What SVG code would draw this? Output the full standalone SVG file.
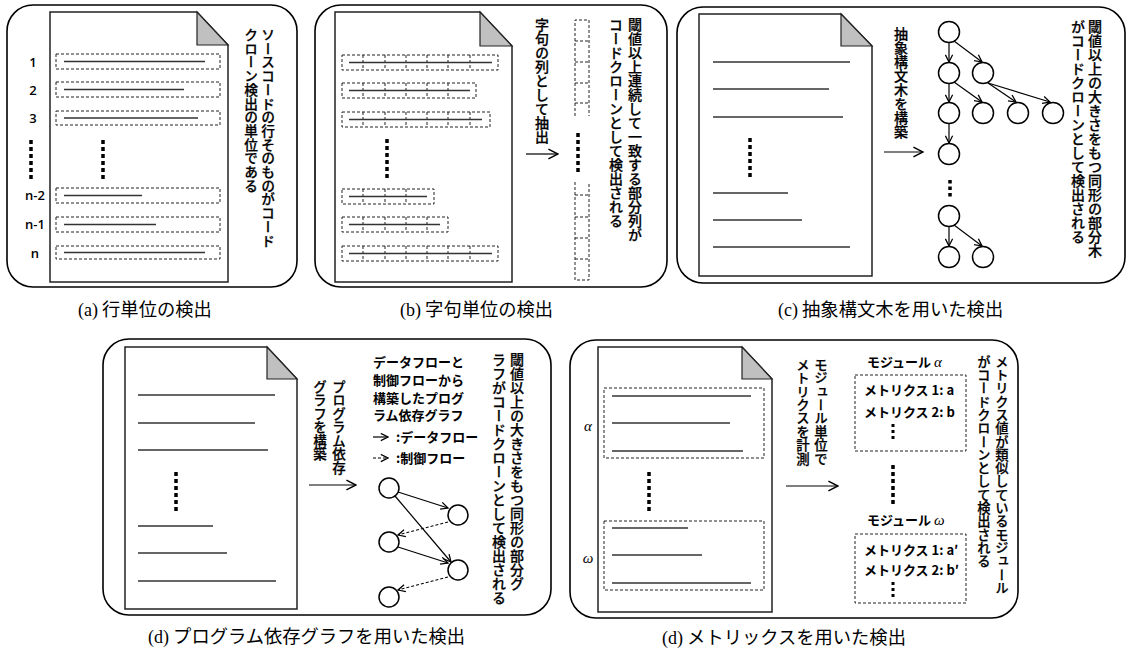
<svg xmlns="http://www.w3.org/2000/svg" width="1129" height="650" viewBox="0 0 1129 650">
<style>
.box{fill:none;stroke:#000;stroke-width:1.6}
.doc{fill:#fff;stroke:#222;stroke-width:1.5}
.fold{fill:#c0c0c0;stroke:#222;stroke-width:1.2}
.ln{stroke:#333;stroke-width:1.3;fill:none}
.dash{fill:none;stroke:#222;stroke-width:1;stroke-dasharray:3 2}
.dots{stroke:#000;stroke-width:3.5;stroke-dasharray:4 3;fill:none}
.vt{font-family:"Noto Sans CJK JP","Noto Sans CJK SC",sans-serif;font-size:14px;font-weight:500;writing-mode:vertical-rl;fill:#000;stroke:#000;stroke-width:0.25}
.ht{font-family:"Noto Sans CJK JP","Noto Sans CJK SC",sans-serif;font-size:13px;font-weight:bold;fill:#000}
.num{font-family:"Open Sans","Noto Sans",sans-serif;font-size:13px;fill:#000;text-anchor:middle;font-weight:600}
.cap{font-family:"Noto Sans CJK JP",sans-serif;font-size:18.3px;fill:#000}
.capl{font-family:"Liberation Serif",serif;font-size:18px}
.node{fill:#fff;stroke:#000;stroke-width:1.5}
.ar{stroke:#000;stroke-width:1.2;fill:none}
.ard{stroke:#000;stroke-width:1.1;fill:none;stroke-dasharray:3 2}
.gk{font-family:"Liberation Serif",serif;font-style:italic;font-size:15px}
</style>
<defs>
<marker id="big" markerUnits="userSpaceOnUse" markerWidth="12" markerHeight="12" viewBox="0 0 10 10" refX="9" refY="5" orient="auto">
<path d="M1,1 L9,5 L1,9" fill="none" stroke="#000" stroke-width="1.2"/>
</marker>
<marker id="sm" markerUnits="userSpaceOnUse" markerWidth="9" markerHeight="9" viewBox="0 0 10 10" refX="9" refY="5" orient="auto">
<path d="M1,1 L9,5 L1,9" fill="none" stroke="#000" stroke-width="1.4"/>
</marker>
</defs>

<!-- Panel (a) -->
<g id="panel-a">
<rect class="box" x="7" y="5" width="290" height="282" rx="26"/>
<path class="doc" d="M50,12 H197 L228,45 V282 H50 Z"/>
<path class="fold" d="M197,12 V45 H228 Z"/>
<rect class="dash" x="56" y="54" width="164" height="15"/>
<line class="ln" x1="64" y1="61.5" x2="205" y2="61.5"/>
<rect class="dash" x="56" y="82" width="164" height="15"/>
<line class="ln" x1="64" y1="89.5" x2="184" y2="89.5"/>
<rect class="dash" x="56" y="111" width="164" height="14"/>
<line class="ln" x1="64" y1="118" x2="198" y2="118"/>
<rect class="dash" x="56" y="188" width="164" height="15"/>
<line class="ln" x1="64" y1="195.5" x2="142" y2="195.5"/>
<rect class="dash" x="56" y="217" width="164" height="15"/>
<line class="ln" x1="64" y1="224.5" x2="156" y2="224.5"/>
<rect class="dash" x="56" y="246" width="164" height="13"/>
<line class="ln" x1="64" y1="252.5" x2="205" y2="252.5"/>
<line class="dots" x1="103" y1="140" x2="103" y2="180"/>
<line class="dots" x1="31" y1="140" x2="31" y2="180"/>
<text class="num" x="33" y="67">1</text>
<text class="num" x="33" y="95">2</text>
<text class="num" x="33" y="123">3</text>
<text class="num" x="35" y="200">n-2</text>
<text class="num" x="35" y="229">n-1</text>
<text class="num" x="35" y="258">n</text>
<text class="vt" x="268" y="28" style="font-size:13.7px">ソースコードの行そのものがコード</text>
<text class="vt" x="251" y="28" style="font-size:13.7px">クローン検出の単位である</text>
</g>
<text class="cap" x="78" y="316"><tspan class="capl">(a)</tspan> 行単位の検出</text>

<!-- Panel (b) -->
<g id="panel-b">
<rect class="box" x="315" y="5" width="352" height="282" rx="26"/>
<path class="doc" d="M335,12 H480 L512,46 V282 H335 Z"/>
<path class="fold" d="M480,12 V46 H512 Z"/>
<rect class="dash" x="342" y="55" width="156" height="15"/>
<path class="dash" d="M363,55V70M385,55V70M406,55V70M427,55V70M448,55V70M470,55V70"/>
<line class="ln" x1="349" y1="62.5" x2="492" y2="62.5"/>
<rect class="dash" x="342" y="83" width="134" height="15"/>
<path class="dash" d="M363,83V98M385,83V98M406,83V98M427,83V98M448,83V98"/>
<line class="ln" x1="349" y1="90.5" x2="470" y2="90.5"/>
<rect class="dash" x="342" y="112" width="148" height="15"/>
<path class="dash" d="M363,112V127M385,112V127M406,112V127M427,112V127M448,112V127M470,112V127"/>
<line class="ln" x1="349" y1="119.5" x2="482" y2="119.5"/>
<rect class="dash" x="342" y="189" width="92" height="15"/>
<path class="dash" d="M363,189V204M385,189V204M406,189V204"/>
<line class="ln" x1="349" y1="196.5" x2="427" y2="196.5"/>
<rect class="dash" x="342" y="217" width="106" height="15"/>
<path class="dash" d="M363,217V232M385,217V232M406,217V232M427,217V232"/>
<line class="ln" x1="349" y1="224.5" x2="440" y2="224.5"/>
<rect class="dash" x="342" y="246" width="156" height="15"/>
<path class="dash" d="M363,246V261M385,246V261M406,246V261M427,246V261M448,246V261M470,246V261"/>
<line class="ln" x1="349" y1="253.5" x2="492" y2="253.5"/>
<line class="dots" x1="387" y1="139" x2="387" y2="181"/>
<text class="vt" x="542" y="18">字句の列として抽出</text>
<path class="dash" d="M575,116V20H589V116M575,41H589M575,62H589M575,83H589M575,103H589"/>
<line class="dots" x1="578" y1="133" x2="578" y2="174"/>
<path class="dash" d="M575,182V280H589V182M575,195H589M575,217H589M575,238H589M575,259H589"/>
<text class="vt" x="635" y="18">閾値以上連続して一致する部分列が</text>
<text class="vt" x="616" y="18">コードクローンとして検出される</text>
</g>
<text class="cap" x="400" y="316"><tspan class="capl">(b)</tspan> 字句単位の検出</text>

<!-- Panel (c) -->
<g id="panel-c">
<rect class="box" x="677" y="7" width="448" height="276" rx="26"/>
<path class="doc" d="M699,14 H841 L872,46 V276 H699 Z"/>
<path class="fold" d="M841,14 V46 H872 Z"/>
<line class="ln" x1="713" y1="62" x2="850" y2="62"/>
<line class="ln" x1="713" y1="89" x2="829" y2="89"/>
<line class="ln" x1="713" y1="117" x2="843" y2="117"/>
<line class="dots" x1="750" y1="138" x2="750" y2="178"/>
<line class="ln" x1="713" y1="193" x2="788" y2="193"/>
<line class="ln" x1="713" y1="220" x2="802" y2="220"/>
<line class="ln" x1="713" y1="247" x2="850" y2="247"/>
<text class="vt" x="901" y="27">抽象構文木を構築</text>
<circle class="node" cx="949" cy="32" r="10.5"/>
<circle class="node" cx="949" cy="73" r="10.5"/>
<circle class="node" cx="983" cy="73" r="10.5"/>
<circle class="node" cx="949" cy="113" r="10.5"/>
<circle class="node" cx="983" cy="113" r="10.5"/>
<circle class="node" cx="1018" cy="113" r="10.5"/>
<circle class="node" cx="1053" cy="113" r="10.5"/>
<circle class="node" cx="949" cy="154" r="10.5"/>
<line class="dots" x1="950" y1="180" x2="950" y2="198" style="stroke-dasharray:3.5 3"/>
<circle class="node" cx="949" cy="216" r="10.5"/>
<circle class="node" cx="949" cy="257" r="10.5"/>
<circle class="node" cx="983" cy="257" r="10.5"/>
<text class="vt" x="1095" y="20">閾値以上の大きさをもつ同形の部分木</text>
<text class="vt" x="1078" y="20">がコードクローンとして検出される</text>
</g>
<text class="cap" x="778" y="316"><tspan class="capl">(c)</tspan> 抽象構文木を用いた検出</text>

<!-- Panel (d) PDG -->
<g id="panel-d-pdg">
<rect class="box" x="103" y="339" width="448" height="276" rx="26"/>
<path class="doc" d="M125,347 H267 L297,379 V609 H125 Z"/>
<path class="fold" d="M267,347 V379 H297 Z"/>
<line class="ln" x1="138" y1="395" x2="275" y2="395"/>
<line class="ln" x1="138" y1="423" x2="255" y2="423"/>
<line class="ln" x1="138" y1="450" x2="268" y2="450"/>
<line class="dots" x1="176" y1="472" x2="176" y2="511"/>
<line class="ln" x1="138" y1="526" x2="213" y2="526"/>
<line class="ln" x1="138" y1="553" x2="227" y2="553"/>
<line class="ln" x1="138" y1="581" x2="276" y2="581"/>
<text class="vt" x="339" y="380" style="font-size:13.5px">プログラム依存</text>
<text class="vt" x="320" y="380" style="font-size:13.5px">グラフを構築</text>
<text class="ht" x="373" y="367">データフローと</text>
<text class="ht" x="373" y="385">制御フローから</text>
<text class="ht" x="373" y="403">構築したプログ</text>
<text class="ht" x="373" y="420">ラム依存グラフ</text>
<text class="ht" x="396" y="442">:データフロー</text>
<text class="ht" x="396" y="463">:制御フロー</text>
<circle class="node" cx="389" cy="488" r="10"/>
<circle class="node" cx="458" cy="515" r="10"/>
<circle class="node" cx="389" cy="542" r="10"/>
<circle class="node" cx="458" cy="570" r="10"/>
<circle class="node" cx="389" cy="597" r="10"/>
<text class="vt" x="517" y="353">閾値以上の大きさをもつ同形の部分グ</text>
<text class="vt" x="499" y="353">ラフがコードクローンとして検出される</text>
</g>
<text class="cap" x="148" y="643"><tspan class="capl">(d)</tspan> プログラム依存グラフを用いた検出</text>

<!-- Panel (d) metrics -->
<g id="panel-d-metrics">
<rect class="box" x="570" y="340" width="448" height="278" rx="26"/>
<path class="doc" d="M598,347 H742 L772,379 V612 H598 Z"/>
<path class="fold" d="M742,347 V379 H772 Z"/>
<rect class="dash" x="604" y="388" width="160" height="70"/>
<line class="ln" x1="612" y1="396" x2="751" y2="396"/>
<line class="ln" x1="612" y1="423" x2="730" y2="423"/>
<line class="ln" x1="612" y1="451" x2="743" y2="451"/>
<line class="dots" x1="649" y1="472" x2="649" y2="513"/>
<rect class="dash" x="604" y="521" width="160" height="69"/>
<line class="ln" x1="612" y1="528" x2="688" y2="528"/>
<line class="ln" x1="612" y1="555" x2="702" y2="555"/>
<line class="ln" x1="612" y1="583" x2="751" y2="583"/>
<text class="gk" x="588" y="431" text-anchor="middle">α</text>
<text class="gk" x="588" y="563" text-anchor="middle">ω</text>
<text class="vt" x="821" y="358" style="font-size:13.4px">モジュール単位で</text>
<text class="vt" x="803" y="358" style="font-size:13.4px">メトリクスを計測</text>
<text class="ht" x="867" y="367">モジュール <tspan class="gk" font-weight="normal">α</tspan></text>
<rect class="dash" x="855" y="375" width="111" height="76"/>
<text class="ht" x="864" y="395">メトリクス 1: a</text>
<text class="ht" x="864" y="417">メトリクス 2: b</text>
<line class="dots" x1="893" y1="424" x2="893" y2="441" style="stroke-width:3;stroke-dasharray:3 3"/>
<line class="dots" x1="893" y1="465" x2="893" y2="506"/>
<text class="ht" x="867" y="525">モジュール <tspan class="gk" font-weight="normal">ω</tspan></text>
<rect class="dash" x="855" y="534" width="111" height="69"/>
<text class="ht" x="864" y="555">メトリクス 1: a′</text>
<text class="ht" x="864" y="575">メトリクス 2: b′</text>
<line class="dots" x1="893" y1="582" x2="893" y2="600" style="stroke-width:3;stroke-dasharray:3 3"/>
<text class="vt" x="1002" y="355" style="font-size:13.3px">メトリクス値が類似しているモジュール</text>
<text class="vt" x="984" y="355" style="font-size:13.3px">がコードクローンとして検出される</text>
</g>
<text class="cap" x="662" y="644"><tspan class="capl">(d)</tspan> メトリックスを用いた検出</text>

<!-- Connectors -->
<g id="connectors">
<line class="ar" x1="526" y1="154" x2="558" y2="154" marker-end="url(#big)"/>
<line class="ar" x1="884" y1="152" x2="923" y2="152" marker-end="url(#big)"/>
<line class="ar" x1="309" y1="485" x2="356" y2="485" marker-end="url(#big)"/>
<line class="ar" x1="786" y1="486" x2="838" y2="486" marker-end="url(#big)"/>
<line class="ar" x1="949" y1="42.5" x2="949" y2="62" marker-end="url(#sm)"/>
<line class="ar" x1="954" y1="41" x2="982" y2="62" marker-end="url(#sm)"/>
<line class="ar" x1="949" y1="83.5" x2="949" y2="102" marker-end="url(#sm)"/>
<line class="ar" x1="954" y1="82" x2="982" y2="102" marker-end="url(#sm)"/>
<line class="ar" x1="988" y1="83" x2="1016" y2="102" marker-end="url(#sm)"/>
<line class="ar" x1="988" y1="83" x2="1050" y2="102" marker-end="url(#sm)"/>
<line class="ar" x1="949" y1="123.5" x2="949" y2="143" marker-end="url(#sm)"/>
<line class="ar" x1="949" y1="226.5" x2="949" y2="246" marker-end="url(#sm)"/>
<line class="ar" x1="954" y1="225" x2="982" y2="246" marker-end="url(#sm)"/>
<line class="ar" x1="373" y1="437" x2="388" y2="437" marker-end="url(#sm)"/>
<line class="ard" x1="373" y1="458" x2="388" y2="458" marker-end="url(#sm)"/>
<line class="ar" x1="398" y1="492" x2="448" y2="508" marker-end="url(#sm)"/>
<line class="ar" x1="395" y1="496" x2="451" y2="562" marker-end="url(#sm)"/>
<line class="ard" x1="448" y1="522" x2="398" y2="535" marker-end="url(#sm)"/>
<line class="ar" x1="398" y1="547" x2="448" y2="563" marker-end="url(#sm)"/>
<line class="ard" x1="448" y1="577" x2="398" y2="590" marker-end="url(#sm)"/>
</g>
</svg>
